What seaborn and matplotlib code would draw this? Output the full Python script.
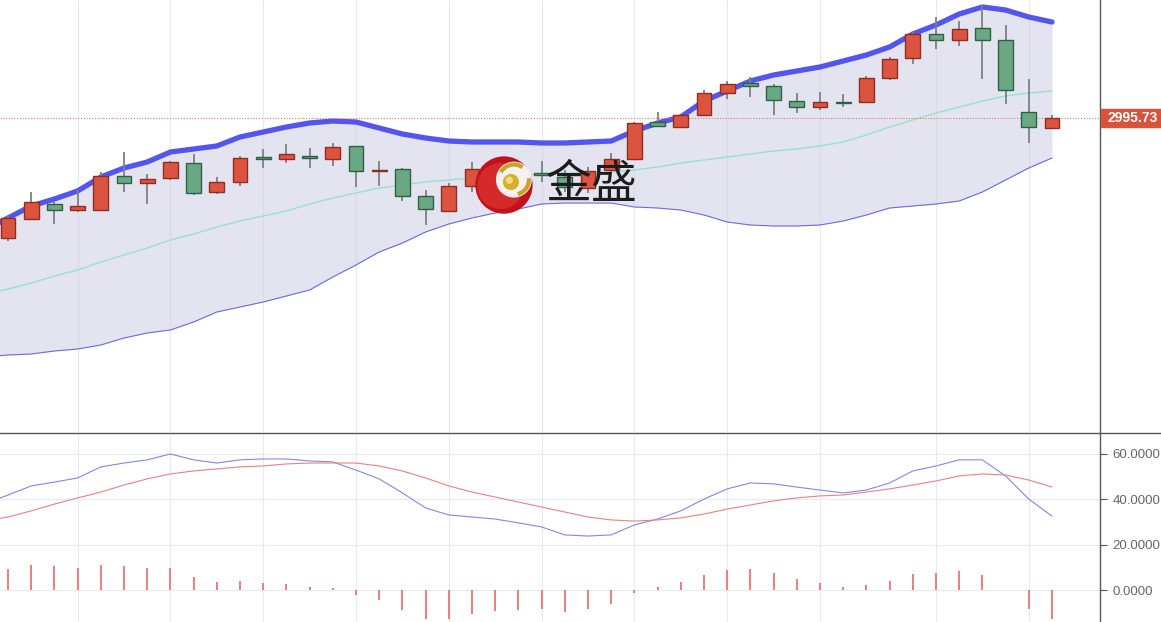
import numpy as np
import pandas as pd
import seaborn as sns
import matplotlib.pyplot as plt
import matplotlib.transforms as mtransforms
from matplotlib.patches import Rectangle, Circle, Arc
from matplotlib.lines import Line2D

# candles, one per bar (red = up, green = down)
opens = [2935.7, 2945.2, 2952.7, 2949.7, 2949.7, 2966.7, 2963.2, 2965.7, 2973.2, 2958.7,
         2963.7, 2976.2, 2975.2, 2976.7, 2975.2, 2981.7, 2969.2, 2970.2, 2956.7, 2949.2,
         2961.7, 2963.7, 2970.7, 2968.2, 2966.2, 2960.7, 2969.7, 2975.2, 2993.7, 2991.2,
         2997.2, 3008.2, 3013.2, 3011.7, 3004.2, 3001.2, 3003.7, 3003.7, 3015.7, 3025.7,
         3037.7, 3034.7, 3040.7, 3034.7, 2998.7, 2990.7]
closes = [2945.7, 2953.7, 2949.7, 2951.7, 2966.7, 2963.2, 2965.2, 2973.7, 2958.2, 2963.7,
          2975.7, 2975.2, 2977.7, 2975.7, 2981.2, 2969.2, 2969.7, 2956.7, 2950.2, 2961.7,
          2970.2, 2970.7, 2967.7, 2967.2, 2961.2, 2969.2, 2975.2, 2993.2, 2991.7, 2997.2,
          3008.2, 3012.7, 3011.7, 3004.7, 3001.2, 3003.7, 3003.2, 3015.7, 3025.2, 3037.7,
          3034.7, 3040.2, 3034.7, 3009.7, 2991.2, 2995.73]
highs = [2946.7, 2958.7, 2954.2, 2959.7, 2968.7, 2978.7, 2967.7, 2974.2, 2977.7, 2966.2,
         2976.7, 2980.2, 2982.7, 2980.7, 2983.2, 2981.7, 2974.2, 2970.7, 2959.7, 2963.2,
         2973.7, 2972.7, 2973.2, 2974.2, 2969.7, 2971.2, 2978.2, 2993.7, 2998.7, 2997.2,
         3009.7, 3014.2, 3016.2, 3012.7, 3008.2, 3008.7, 3007.7, 3016.7, 3026.2, 3038.7,
         3046.2, 3044.2, 3052.2, 3042.2, 3015.2, 2997.2]
lows = [2934.2, 2944.7, 2942.7, 2948.7, 2949.2, 2958.7, 2952.7, 2964.7, 2957.2, 2957.7,
        2961.7, 2970.7, 2973.2, 2970.7, 2971.7, 2961.2, 2961.7, 2954.2, 2942.2, 2949.2,
        2958.7, 2960.7, 2963.2, 2963.7, 2958.7, 2958.2, 2967.2, 2975.2, 2991.2, 2991.2,
        2997.2, 3005.2, 3006.2, 2997.2, 2998.2, 2999.7, 3001.2, 3003.2, 3014.7, 3022.7,
        3030.2, 3031.7, 3015.2, 3002.7, 2983.2, 2990.7]

# bollinger bands (start one bar before the first visible candle)
band_upper = [2939.7, 2945.7, 2951.7, 2955.2, 2959.2, 2966.2, 2970.7, 2973.7, 2978.7, 2980.2,
              2981.7, 2986.2, 2988.7, 2991.2, 2993.2, 2994.2, 2993.7, 2990.7, 2987.7, 2985.7,
              2984.2, 2983.7, 2983.7, 2983.7, 2983.2, 2983.2, 2983.7, 2984.2, 2989.2, 2993.2,
              2996.2, 3004.2, 3009.2, 3014.2, 3017.2, 3019.2, 3021.2, 3024.2, 3027.2, 3031.2,
              3037.7, 3042.2, 3047.7, 3051.2, 3049.7, 3046.2, 3043.7]
band_mid = [2907.7, 2910.2, 2913.2, 2916.7, 2919.7, 2923.7, 2927.2, 2930.7, 2934.7, 2937.7,
            2941.2, 2944.2, 2946.7, 2949.2, 2952.7, 2955.7, 2958.2, 2960.7, 2962.2, 2963.7,
            2964.7, 2965.7, 2966.7, 2967.2, 2967.7, 2968.2, 2968.2, 2968.7, 2969.7, 2971.2,
            2973.2, 2974.7, 2976.2, 2977.7, 2979.2, 2980.2, 2981.7, 2983.7, 2987.2, 2991.2,
            2994.7, 2998.2, 3001.2, 3004.2, 3006.7, 3008.2, 3009.2]
band_lower = [2876.2, 2877.2, 2877.7, 2879.2, 2880.2, 2882.2, 2885.7, 2888.2, 2889.7, 2893.7,
              2898.7, 2901.2, 2903.7, 2906.7, 2909.7, 2916.2, 2922.2, 2928.7, 2933.2, 2938.7,
              2942.7, 2945.7, 2948.2, 2950.2, 2952.7, 2953.2, 2953.2, 2953.2, 2951.2, 2950.7,
              2949.7, 2947.2, 2943.7, 2942.2, 2941.7, 2941.7, 2942.2, 2944.2, 2947.2, 2950.7,
              2951.7, 2952.7, 2954.2, 2958.7, 2964.7, 2970.7, 2975.7]

# lower panel: macd lines (same start as the bands) and histogram (one per candle)
dif = [37.9, 41.9, 45.9, 47.6, 49.4, 54.3, 56.0, 57.4, 60.0, 57.4,
       56.0, 57.4, 57.8, 57.8, 56.9, 56.5, 52.9, 49.0, 42.8, 36.2,
       33.1, 32.2, 31.3, 29.6, 27.8, 24.3, 23.8, 24.3, 28.7, 31.3,
       34.9, 40.1, 44.6, 47.2, 46.8, 45.4, 44.1, 42.8, 44.1, 47.2,
       52.5, 54.7, 57.4, 57.4, 50.3, 40.1, 32.6]
dea = [30.4, 32.2, 34.9, 37.9, 40.6, 43.2, 46.3, 49.0, 51.2, 52.5,
       53.4, 54.3, 54.7, 55.6, 56.0, 56.0, 56.0, 54.7, 52.5, 49.4,
       45.9, 43.2, 41.0, 38.8, 36.6, 34.4, 32.2, 30.9, 30.4, 30.9,
       31.8, 33.5, 35.7, 37.5, 39.3, 40.6, 41.5, 41.9, 43.2, 44.6,
       46.3, 48.1, 50.3, 51.2, 50.7, 48.5, 45.4]
macd_hist = [9.4, 11.0, 10.6, 9.7, 11.0, 10.6, 9.7, 9.7, 5.7, 3.7,
             4.0, 3.1, 2.8, 1.3, 1.0, -2.4, -4.5, -9.0, -12.9, -12.9,
             -10.7, -9.3, -9.0, -8.5, -9.7, -8.2, -6.0, -1.2, 1.3, 3.7,
             6.6, 8.8, 9.3, 7.5, 4.9, 3.1, 1.3, 2.2, 4.0, 7.2,
             7.5, 8.2, 6.6, 0.0, -8.2, -12.6]

last_price = 2995.73
grid_bars = [3, 7, 11, 15, 19, 23, 27, 31, 35, 40, 44]
macd_ticks = [0, 20, 40, 60]

sns.set_theme(style="white")
plt.rcParams['font.family'] = ['Liberation Sans', 'DejaVu Sans']

W, H = 1161, 622
fig = plt.figure(figsize=(W / 100, H / 100), dpi=100)
ax = fig.add_axes([0, 1 - 432 / H, 1100 / W, 432 / H])
ax2 = fig.add_axes([0, 0, 1100 / W, 188 / H])

bars = np.arange(len(opens))
df_band = pd.DataFrame({"bar": np.arange(-1, len(opens)), "upper": band_upper,
                        "mid": band_mid, "lower": band_lower, "dif": dif, "dea": dea})

# ---- main panel
ax.fill_between(df_band["bar"], df_band["lower"], df_band["upper"],
                color="#cfcfe6", alpha=0.55, lw=0, zorder=1)
sns.lineplot(data=df_band, x="bar", y="mid", ax=ax, color="#96e2c8", lw=1.0, zorder=2)
sns.lineplot(data=df_band, x="bar", y="lower", ax=ax, color="#6b6be2", lw=0.8, zorder=2)
sns.lineplot(data=df_band, x="bar", y="upper", ax=ax, color="#5454ee", lw=3.8, zorder=2)

o = np.array(opens)
c = np.array(closes)
up = c >= o
body_low = np.minimum(o, c)
body_h = np.maximum(np.abs(c - o), 0.6)
ax.vlines(bars, lows, highs, color="#808080", lw=1.3, zorder=3)
ax.bar(bars[up], body_h[up], bottom=body_low[up], width=0.64,
       color="#dc5340", edgecolor="#8c2f22", lw=1.0, zorder=4)
ax.bar(bars[~up], body_h[~up], bottom=body_low[~up], width=0.64,
       color="#6aa884", edgecolor="#2f6045", lw=1.0, zorder=4)

ax.axhline(last_price, color="#e07a6a", ls=(0, (1, 1.5)), lw=0.8, zorder=2)

ax.set_xlim(-0.345, 47.07)
ax.set_ylim(2838.7, 3054.7)
ax.set_xticks(grid_bars)
ax.set_yticks([])
ax.tick_params(axis="x", length=0, labelbottom=False)
ax.grid(axis="x", color="#e5e9f0", lw=0.8)
ax.set_axisbelow(True)
ax.set_xlabel("")
ax.set_ylabel("")
for s in ["left", "top", "bottom"]:
    ax.spines[s].set_visible(False)
ax.spines["right"].set_color("#555555")
ax.spines["right"].set_linewidth(1.0)

# ---- lower panel
ax2.bar(bars, macd_hist, width=0.09, color="#f08080", lw=0, zorder=2)
sns.lineplot(data=df_band, x="bar", y="dif", ax=ax2, color="#8686e6", lw=0.8, zorder=3)
sns.lineplot(data=df_band, x="bar", y="dea", ax=ax2, color="#ee8080", lw=0.8, zorder=3)
ax2.set_xlim(-0.345, 47.07)
ax2.set_ylim(-14.1, 68.8)
ax2.set_xticks(grid_bars)
ax2.set_yticks(macd_ticks)
ax2.set_yticklabels([f"{t:.4f}" for t in macd_ticks])
ax2.yaxis.tick_right()
ax2.tick_params(axis="y", right=True, length=5, width=0.8, color="#555555",
                labelcolor="#666666", labelsize=9.5, pad=4)
ax2.tick_params(axis="x", length=0, labelbottom=False)
ax2.grid(True, color="#e6ebf2", lw=0.8)
ax2.set_axisbelow(True)
ax2.set_xlabel("")
ax2.set_ylabel("")
for s in ["left", "top", "bottom"]:
    ax2.spines[s].set_visible(False)
ax2.spines["right"].set_color("#555555")
ax2.spines["right"].set_linewidth(1.0)

# panel divider across the whole width
fig.add_artist(Line2D([0, 1], [1 - 433 / H, 1 - 433 / H], transform=fig.transFigure,
                      color="#555555", lw=1.0))

# last price tag on the right
trans = mtransforms.blended_transform_factory(fig.transFigure, ax.transData)
fig.add_artist(Rectangle((1101 / W, last_price - 4.6), 60 / W, 9.2, transform=trans,
                         color="#d9533c", clip_on=False, zorder=5))
fig.text(1108 / W, last_price, f"{last_price:.2f}", transform=trans, color="white",
         fontsize=10, fontweight="bold", va="center", ha="left", zorder=6)

# watermark
logo = fig.add_axes([471 / W, 1 - 218 / H, 64 / W, 64 / H])
logo.set_xlim(-1, 1)
logo.set_ylim(-1, 1)
logo.axis("off")
logo.add_patch(Circle((0.03, 0.03), 0.875, color="#c4101c"))
logo.add_patch(Circle((-0.08, 0.0), 0.7, color="#d42a2a"))
logo.add_patch(Circle((0.34, 0.2), 0.54, color="#f6f0ee"))
logo.add_patch(Arc((0.34, 0.2), 0.94, 0.94, theta1=55, theta2=150, color="#c9a232", lw=3))
logo.add_patch(Arc((0.34, 0.2), 0.94, 0.94, theta1=-75, theta2=5, color="#c9a232", lw=3))
logo.add_patch(Circle((0.25, 0.125), 0.23, color="#d4b02e"))
logo.add_patch(Circle((0.2, 0.18), 0.09, color="#f0dc80"))

fig.text(546 / W, 1 - 185 / H, "金盛", family=["Noto Sans CJK SC"], fontsize=33,
         color="#1c1c1c", va="center", ha="left", zorder=7)

fig.savefig("out.png", dpi=100)
